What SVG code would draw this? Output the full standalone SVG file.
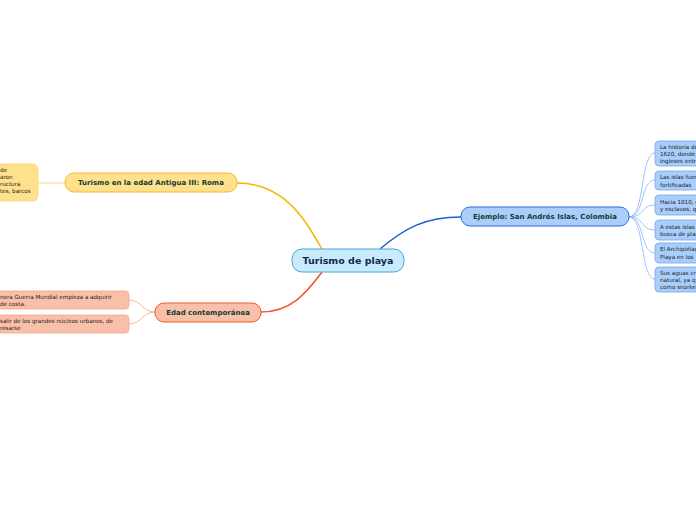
<svg xmlns="http://www.w3.org/2000/svg" width="696" height="520" viewBox="0 0 696 520">
<style>
.t{font-family:"DejaVu Sans",Verdana,sans-serif;}
.main{font-size:9.5px;font-weight:bold;fill:#0d2a4a;}
.mid{font-size:7px;font-weight:bold;fill:#123c33;}
.sm{font-size:5.6px;fill:#1a1a1a;}
.c{fill:none;}
</style>
<rect width="696" height="520" fill="#ffffff"/>
<g id="connectors">
<path class="c" d="M237,183 C285,183 305,220 322,249" stroke="#f7b500" stroke-width="1.5"/>
<path class="c" d="M322,272 C305,295 290,312 261,312" stroke="#f2562a" stroke-width="1.6"/>
<path class="c" d="M380,249 C405,228 425,217 461,217" stroke="#1c5fcf" stroke-width="1.5"/>
<path class="c" d="M38,183 L65,183" stroke="#ffe3a3" stroke-width="1.5"/>
<path class="c" d="M155,312 C142,312 142,300 129,300" stroke="#f9b49a" stroke-width="1"/>
<path class="c" d="M155,312 C142,312 142,324 129,324" stroke="#f9b49a" stroke-width="1"/>
<g stroke="#8cb4f2" stroke-width="0.8">
<path class="c" d="M629,217 C645,217 640,153 655,153"/>
<path class="c" d="M629,217 C645,217 640,180 655,180"/>
<path class="c" d="M629,217 C645,217 640,205 655,205"/>
<path class="c" d="M629,217 C645,217 640,230 655,230"/>
<path class="c" d="M629,217 C645,217 640,253 655,253"/>
<path class="c" d="M629,217 C645,217 640,279 655,279"/>
</g>
</g>
<g id="central">
<rect x="292" y="249" width="112" height="23" rx="10" fill="#c8ebfc" stroke="#4da3dc" stroke-width="1"/>
<text class="t main" x="348" y="264" text-anchor="middle">Turismo de playa</text>
</g>
<g id="roma">
<rect x="65" y="173" width="172" height="19" rx="9" fill="#ffe08c" stroke="#f5bb2a" stroke-width="1"/>
<text class="t mid" x="151" y="185" text-anchor="middle">Turismo en la edad Antigua III: Roma</text>
</g>
<g id="roma-detail">
<rect x="-10" y="164" width="48" height="37" rx="5" fill="#ffe08c" stroke="#ffd36a" stroke-width="0.8"/>
<text class="t sm" x="0" y="172">de</text>
<text class="t sm" x="0" y="179">aron</text>
<text class="t sm" x="0" y="186">ructura</text>
<text class="t sm" x="0" y="193">tes, barcos</text>
</g>
<g id="contemporanea">
<rect x="155" y="303" width="106" height="19" rx="9" fill="#f9bfa9" stroke="#f0572a" stroke-width="1"/>
<text class="t mid" x="208" y="315" text-anchor="middle">Edad contemporánea</text>
</g>
<g id="cont-1">
<rect x="-8" y="291" width="137" height="18" rx="4" fill="#f9bfa9" stroke="#f7a588" stroke-width="0.8"/>
<text class="t sm" x="0" y="299">nera Guerra Mundial empieza a adquirir</text>
<text class="t sm" x="0" y="306">de costa.</text>
</g>
<g id="cont-2">
<rect x="-8" y="315" width="137" height="18" rx="4" fill="#f9bfa9" stroke="#f7a588" stroke-width="0.8"/>
<text class="t sm" x="0" y="323">salir de los grandes núcleos urbanos, de</text>
<text class="t sm" x="0" y="330">resarse</text>
</g>
<g id="ejemplo">
<rect x="461" y="207" width="168" height="19" rx="9" fill="#a9cefb" stroke="#2c6dd6" stroke-width="1"/>
<text class="t mid" x="545" y="219" text-anchor="middle">Ejemplo: San Andrés Islas, Colombia</text>
</g>
<g id="b1">
<rect x="655" y="141" width="60" height="25" rx="4" fill="#a9cefb" stroke="#76a6f0" stroke-width="0.8"/>
<text class="t sm" x="660" y="149">La historia de</text>
<text class="t sm" x="660" y="156">1620, donde</text>
<text class="t sm" x="660" y="163">ingleses entr</text>
</g>
<g id="b2">
<rect x="655" y="171" width="60" height="19" rx="4" fill="#a9cefb" stroke="#76a6f0" stroke-width="0.8"/>
<text class="t sm" x="660" y="179">Las islas fuer</text>
<text class="t sm" x="660" y="187">fortificadas</text>
</g>
<g id="b3">
<rect x="655" y="195" width="60" height="20" rx="4" fill="#a9cefb" stroke="#76a6f0" stroke-width="0.8"/>
<text class="t sm" x="660" y="204">Hacia 1810, e</text>
<text class="t sm" x="660" y="211">y esclavos, q</text>
</g>
<g id="b4">
<rect x="655" y="220" width="60" height="20" rx="4" fill="#a9cefb" stroke="#76a6f0" stroke-width="0.8"/>
<text class="t sm" x="660" y="229">A estas islas</text>
<text class="t sm" x="660" y="236">busca de play</text>
</g>
<g id="b5">
<rect x="655" y="243" width="60" height="20" rx="4" fill="#a9cefb" stroke="#76a6f0" stroke-width="0.8"/>
<text class="t sm" x="660" y="251">El Archipiélag</text>
<text class="t sm" x="660" y="259">Playa en los</text>
</g>
<g id="b6">
<rect x="655" y="267" width="60" height="25" rx="4" fill="#a9cefb" stroke="#76a6f0" stroke-width="0.8"/>
<text class="t sm" x="660" y="275">Sus aguas cr</text>
<text class="t sm" x="660" y="282">natural, ya q</text>
<text class="t sm" x="660" y="289">como snorkel</text>
</g>
</svg>
